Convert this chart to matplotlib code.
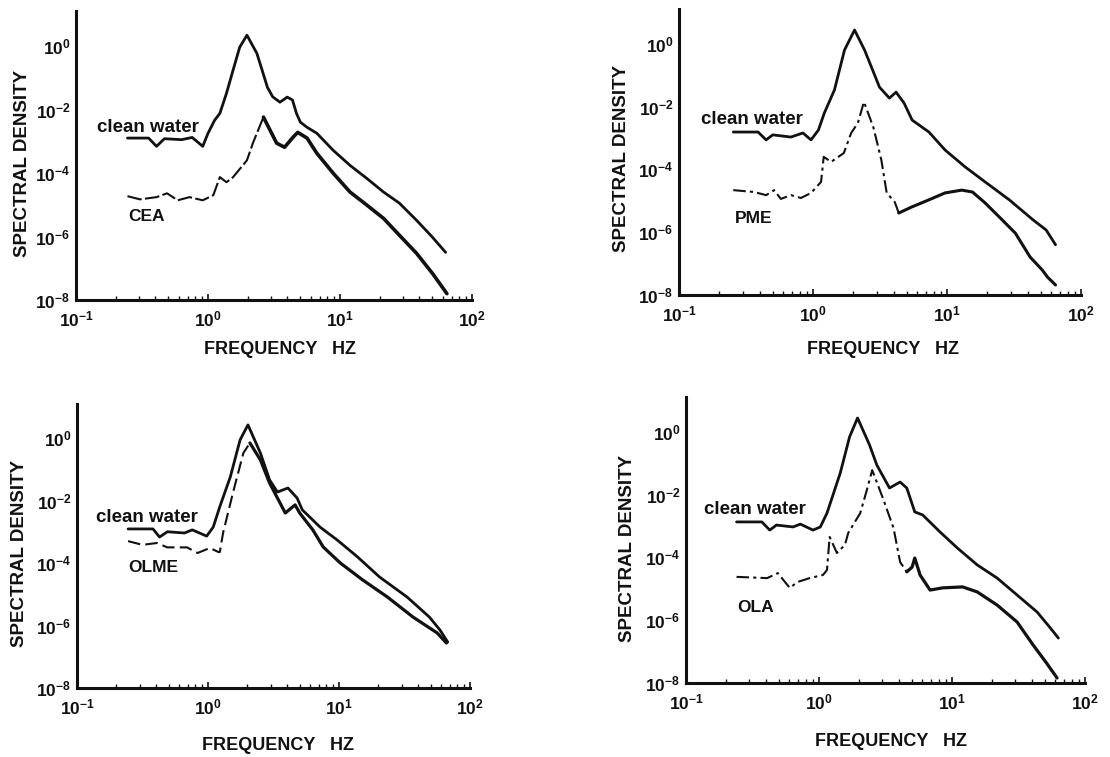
import numpy as np
import matplotlib
matplotlib.use('Agg')
import matplotlib.pyplot as plt
from matplotlib.ticker import FixedLocator, NullFormatter

plt.rcParams['font.family'] = ['Liberation Sans', 'DejaVu Sans']
plt.rcParams['mathtext.fontset'] = 'custom'
plt.rcParams['mathtext.rm'] = 'Liberation Sans'
plt.rcParams['mathtext.bf'] = 'Liberation Sans:bold'

# ---------------- data (log10 frequency [Hz], log10 spectral density) ----------------
x_tick_exps = [-1, 0, 1, 2]
y_tick_exps = [0, -2, -4, -6, -8]
x_label = "FREQUENCY   HZ"
y_label = "SPECTRAL DENSITY"
reference_name = "clean water"
treated_names = ["CEA", "PME", "OLME", "OLA"]

cw1_logf = [-0.61, -0.45, -0.39, -0.33, -0.20, -0.12, -0.04, 0.0, 0.05, 0.09, 0.14, 0.19, 0.24, 0.295,
            0.37, 0.41, 0.45, 0.49, 0.545, 0.60, 0.64, 0.67, 0.70, 0.75, 0.825, 0.947, 1.076, 1.20,
            1.33, 1.45, 1.58, 1.70, 1.80]
cw1_logs = [-2.90, -2.90, -3.16, -2.92, -2.95, -2.88, -3.16, -2.75, -2.34, -2.12, -1.49, -0.76, -0.04, 0.34,
            -0.23, -0.76, -1.30, -1.60, -1.77, -1.61, -1.70, -2.12, -2.40, -2.56, -2.75, -3.28, -3.76, -4.16,
            -4.60, -4.95, -5.49, -6.02, -6.50]
cea_logf = [-0.61, -0.515, -0.39, -0.31, -0.23, -0.14, -0.04, 0.04, 0.09, 0.14, 0.19, 0.295, 0.34, 0.42,
            0.52, 0.58, 0.645, 0.68, 0.75, 0.825, 0.947, 1.076, 1.20, 1.33, 1.45, 1.58, 1.70, 1.81]
cea_logs = [-4.73, -4.83, -4.76, -4.64, -4.86, -4.76, -4.86, -4.70, -4.13, -4.29, -4.13, -3.60, -3.06, -2.24,
            -3.06, -3.19, -2.87, -2.72, -2.90, -3.38, -4.00, -4.60, -5.00, -5.43, -5.96, -6.53, -7.16, -7.80]

cw2_logf = [-0.595, -0.41, -0.35, -0.30, -0.165, -0.075, -0.015, 0.04, 0.085, 0.16, 0.235, 0.31, 0.385,
            0.436, 0.496, 0.57, 0.62, 0.68, 0.74, 0.865, 0.985, 1.135, 1.285, 1.465, 1.64, 1.74, 1.81]
cw2_logs = [-2.81, -2.81, -3.06, -2.90, -2.97, -2.84, -3.06, -2.75, -2.20, -1.47, -0.20, 0.44, -0.20,
            -0.74, -1.38, -1.73, -1.54, -1.89, -2.43, -2.81, -3.38, -3.92, -4.40, -4.97, -5.60, -5.93, -6.40]
pme_logf = [-0.595, -0.44, -0.35, -0.29, -0.24, -0.165, -0.09, -0.015, 0.06, 0.08, 0.135, 0.23, 0.285, 0.335,
            0.38, 0.45, 0.51, 0.55, 0.61, 0.64, 0.735, 0.865, 0.985, 1.11, 1.19, 1.285, 1.41, 1.51, 1.62,
            1.71, 1.75, 1.81]
pme_logs = [-4.66, -4.72, -4.82, -4.66, -4.94, -4.82, -4.91, -4.75, -4.40, -3.60, -3.76, -3.48, -2.84, -2.52,
            -1.85, -2.65, -3.70, -4.75, -5.04, -5.39, -5.20, -4.97, -4.75, -4.66, -4.72, -5.07, -5.60, -6.03,
            -6.79, -7.20, -7.43, -7.68]

cw3_logf = [-0.61, -0.42, -0.37, -0.31, -0.18, -0.12, -0.01, 0.04, 0.09, 0.17, 0.245, 0.305, 0.40, 0.47,
            0.53, 0.61, 0.68, 0.72, 0.855, 0.985, 1.14, 1.31, 1.52, 1.69, 1.77, 1.83]
cw3_logs = [-2.91, -2.91, -3.17, -3.00, -3.04, -2.94, -3.14, -2.85, -2.20, -1.25, -0.06, 0.42, -0.48, -1.34,
            -1.73, -1.60, -1.92, -2.30, -2.85, -3.26, -3.80, -4.45, -5.09, -5.73, -6.14, -6.53]
olme_logf = [-0.61, -0.50, -0.39, -0.31, -0.16, -0.08, 0.015, 0.08, 0.09, 0.115, 0.19, 0.27, 0.32, 0.40,
             0.47, 0.55, 0.59, 0.665, 0.70, 0.80, 0.88, 1.01, 1.18, 1.37, 1.565, 1.75, 1.82]
olme_logs = [-3.30, -3.42, -3.36, -3.50, -3.50, -3.68, -3.52, -3.65, -3.65, -3.04, -1.76, -0.48, -0.16, -0.70,
             -1.44, -2.08, -2.40, -2.14, -2.40, -2.94, -3.49, -4.00, -4.54, -5.09, -5.73, -6.24, -6.56]

cw4_logf = [-0.62, -0.43, -0.37, -0.32, -0.195, -0.14, -0.045, 0.01, 0.06, 0.16, 0.23, 0.29, 0.38, 0.435,
            0.53, 0.61, 0.66, 0.72, 0.78, 0.91, 1.04, 1.19, 1.34, 1.49, 1.64, 1.74, 1.80]
cw4_logs = [-2.87, -2.87, -3.13, -2.97, -3.03, -2.94, -3.13, -3.03, -2.59, -1.31, -0.16, 0.44, -0.42, -1.06,
            -1.79, -1.60, -1.79, -2.55, -2.65, -3.19, -3.70, -4.24, -4.66, -5.20, -5.74, -6.25, -6.57]
ola_logf = [-0.62, -0.39, -0.31, -0.22, -0.16, -0.07, 0.03, 0.06, 0.08, 0.135, 0.195, 0.22, 0.31, 0.36,
            0.40, 0.48, 0.56, 0.61, 0.66, 0.70, 0.72, 0.76, 0.835, 0.93, 1.08, 1.19, 1.34, 1.49, 1.61,
            1.71, 1.79]
ola_logs = [-4.62, -4.66, -4.50, -4.97, -4.78, -4.66, -4.56, -4.40, -3.35, -3.86, -3.60, -3.22, -2.59, -1.85,
            -1.22, -2.11, -3.06, -4.15, -4.46, -4.31, -4.02, -4.56, -5.04, -4.97, -4.94, -5.10, -5.52, -6.06,
            -6.79, -7.36, -7.84]

# ---------------- layout / style ----------------
W, H = 1110, 757
fig = plt.figure(figsize=(W / 100, H / 100), dpi=100)
fig.patch.set_facecolor('white')

Y_TOP_EXP = 1.1
panels = [
    dict(rf=cw1_logf, rs=cw1_logs, tf=cea_logf, ts=cea_logs, name=treated_names[0], split=0.42,
         dash=(0, (7, 1.6)), tlw=2.6, x0=76, w=396, yb=300, dec=31.75,
         cw_xy=(97, 127), nm_xy=(128, 217), yl_xy=(23, 163), xl_xy=(280, 349)),
    dict(rf=cw2_logf, rs=cw2_logs, tf=pme_logf, ts=pme_logs, name=treated_names[1], split=0.64,
         dash=(0, (6, 2, 1.5, 2)), tlw=2.2, x0=679, w=402, yb=295, dec=31.4,
         cw_xy=(701, 120), nm_xy=(735, 218), yl_xy=(622, 158), xl_xy=(883, 350)),
    dict(rf=cw3_logf, rs=cw3_logs, tf=olme_logf, ts=olme_logs, name=treated_names[2], split=0.32,
         dash=(0, (6, 2.5)), tlw=2.3, x0=77, w=393, yb=688, dec=31.25,
         cw_xy=(96, 517), nm_xy=(128, 567), yl_xy=(20, 553), xl_xy=(278, 745)),
    dict(rf=cw4_logf, rs=cw4_logs, tf=ola_logf, ts=ola_logs, name=treated_names[3], split=0.66,
         dash=(0, (6, 2, 1.5, 2)), tlw=2.3, x0=686, w=399, yb=683, dec=31.4,
         cw_xy=(704, 510), nm_xy=(737, 607), yl_xy=(628, 548), xl_xy=(891, 742)),
]

ink = '#111111'


def fx(px):
    return px / W


def fy(py):
    return 1 - py / H


for p in panels:
    height = p['dec'] * (8 + Y_TOP_EXP)
    ax = fig.add_axes([fx(p['x0']), fy(p['yb']), p['w'] / W, height / H])
    ax.set_xscale('log')
    ax.set_yscale('log')
    ax.set_xlim(10.0 ** min(x_tick_exps), 10.0 ** max(x_tick_exps))
    ax.set_ylim(10.0 ** min(y_tick_exps), 10.0 ** Y_TOP_EXP)

    rf = 10.0 ** np.array(p['rf'])
    rs = 10.0 ** np.array(p['rs'])
    tf_log = np.array(p['tf'])
    tf = 10.0 ** tf_log
    ts = 10.0 ** np.array(p['ts'])

    ax.plot(rf, rs, color=ink, lw=2.0, solid_joinstyle='round', solid_capstyle='round')
    low = tf_log <= p['split'] + 1e-9
    high = tf_log >= p['split'] - 1e-9
    ax.plot(tf[low], ts[low], color=ink, lw=1.5, linestyle=p['dash'])
    ax.plot(tf[high], ts[high], color=ink, lw=p['tlw'], solid_joinstyle='round', solid_capstyle='round')

    for side in ('top', 'right'):
        ax.spines[side].set_visible(False)
    for side in ('left', 'bottom'):
        ax.spines[side].set_linewidth(2.2)
        ax.spines[side].set_color(ink)

    ax.xaxis.set_major_locator(FixedLocator([10.0 ** e for e in x_tick_exps]))
    ax.set_xticklabels([r'$\mathbf{10^{%d}}$' % e for e in x_tick_exps])
    minor = [m * 10.0 ** e for e in x_tick_exps[:-1] for m in range(2, 10)]
    ax.xaxis.set_minor_locator(FixedLocator(minor))
    ax.xaxis.set_minor_formatter(NullFormatter())
    ax.tick_params(axis='x', which='major', direction='in', length=4, width=1.2,
                   labelsize=12.5, pad=7, colors=ink)
    ax.tick_params(axis='x', which='minor', direction='in', length=3, width=1.0, colors=ink)

    ax.yaxis.set_major_locator(FixedLocator([10.0 ** e for e in y_tick_exps]))
    ax.set_yticklabels([r'$\mathbf{10^{%d}}$' % e for e in y_tick_exps])
    ax.yaxis.set_minor_locator(FixedLocator([]))
    ax.tick_params(axis='y', which='major', direction='in', length=0, labelsize=12.5, pad=4, colors=ink)
    ax.set_facecolor('none')

    fig.text(fx(p['cw_xy'][0]), fy(p['cw_xy'][1]), reference_name, fontsize=13.5, fontweight='bold',
             ha='left', va='center', color=ink)
    fig.text(fx(p['nm_xy'][0]), fy(p['nm_xy'][1]), p['name'], fontsize=12.5, fontweight='bold',
             ha='left', va='center', color=ink)
    fig.text(fx(p['yl_xy'][0]), fy(p['yl_xy'][1]), y_label, fontsize=13.5, fontweight='bold',
             rotation=90, ha='center', va='center', color=ink)
    fig.text(fx(p['xl_xy'][0]), fy(p['xl_xy'][1]), x_label, fontsize=13, fontweight='bold',
             ha='center', va='center', color=ink)

fig.savefig('out.png', dpi=100, facecolor='white')
